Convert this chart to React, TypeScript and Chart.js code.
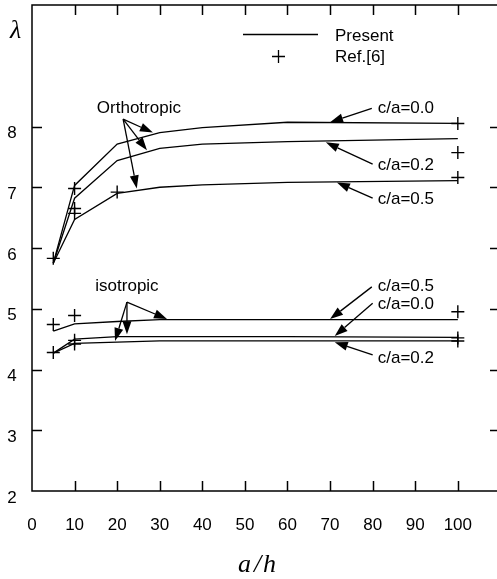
import React, { useEffect, useRef } from "react";
import { Chart, registerables } from "chart.js";

Chart.register(...registerables);

// a/h positions of the computed curves
const curveX = [5, 10, 20, 30, 40, 60, 100];
// Orthotropic (Present)
const orthoC00 = [5.75, 7.03, 7.71, 7.9, 7.98, 8.07, 8.05];
const orthoC02 = [5.75, 6.82, 7.44, 7.64, 7.71, 7.75, 7.8];
const orthoC05 = [5.75, 6.47, 6.9, 7.0, 7.04, 7.08, 7.11];
// Isotropic (Present)
const isoC05 = [4.63, 4.75, 4.79, 4.82, 4.82, 4.82, 4.82];
const isoC00 = [4.27, 4.5, 4.54, 4.54, 4.54, 4.54, 4.53];
const isoC02 = [4.27, 4.43, 4.45, 4.47, 4.47, 4.47, 4.47];

// Ref.[6] points
const refX = [5, 10, 10, 10, 20, 100, 100, 100, 5, 10, 5, 10, 10, 100, 100, 100];
const refY = [5.83, 6.98, 6.65, 6.57, 6.92, 8.05, 7.57, 7.16, 4.74, 4.89, 4.28, 4.48, 4.42, 4.95, 4.52, 4.47];

// axis ticks
const xTicks = [0, 10, 20, 30, 40, 50, 60, 70, 80, 90, 100];
const yTicks = [2, 3, 4, 5, 6, 7, 8];

// annotation texts
const annTexts = ["Orthotropic", "c/a=0.0", "c/a=0.2", "c/a=0.5", "isotropic", "c/a=0.5", "c/a=0.0", "c/a=0.2"];
const annTextX = [25.1, 81.2, 81.2, 81.2, 22.3, 81.2, 81.2, 81.2];
const annTextY = [8.32, 8.32, 7.38, 6.82, 5.39, 5.39, 5.09, 4.2];
const annTextAlign = ["center", "left", "left", "left", "center", "left", "left", "left"];

// arrows: from -> to (data coords)
const arrFromX = [21.4, 21.4, 21.4, 79.8, 80.0, 80.0, 22.3, 22.3, 22.3, 79.8, 80.0, 80.0];
const arrFromY = [8.12, 8.12, 8.12, 8.3, 7.38, 6.82, 5.11, 5.11, 5.11, 5.36, 5.09, 4.24];
const arrToX = [28.4, 27.0, 24.6, 70.0, 69.0, 71.6, 31.7, 22.3, 19.5, 70.0, 71.1, 71.1];
const arrToY = [7.9, 7.61, 6.98, 8.07, 7.74, 7.08, 4.83, 4.58, 4.47, 4.83, 4.55, 4.45];

const toPts = (xs: number[], ys: number[]) => xs.map((x, i) => ({ x, y: ys[i] }));

const FONT = "17px 'Liberation Sans', Arial, sans-serif";

const framePlugin = {
  id: "frame",
  afterDraw(chart: any) {
    const ctx = chart.ctx as CanvasRenderingContext2D;
    const xs = chart.scales.x;
    const ys = chart.scales.y;
    const { left, right, top, bottom } = chart.chartArea;
    ctx.save();
    ctx.strokeStyle = "#000";
    ctx.fillStyle = "#000";
    ctx.lineWidth = 1.5;
    // frame
    ctx.beginPath();
    ctx.moveTo(right + 2, top);
    ctx.lineTo(left, top);
    ctx.lineTo(left, bottom);
    ctx.lineTo(right + 2, bottom);
    ctx.stroke();
    // ticks
    ctx.beginPath();
    xTicks.forEach((v) => {
      if (v === 0) return;
      const px = Math.round(xs.getPixelForValue(v)) + 0.5;
      ctx.moveTo(px, top);
      ctx.lineTo(px, top + 10);
      ctx.moveTo(px, bottom);
      ctx.lineTo(px, bottom - 10);
    });
    yTicks.forEach((v) => {
      if (v === 2) return;
      const py = Math.round(ys.getPixelForValue(v)) + 0.5;
      ctx.moveTo(left, py);
      ctx.lineTo(left + 10, py);
      ctx.moveTo(right + 3, py);
      ctx.lineTo(right - 7, py);
    });
    ctx.stroke();
    // tick labels
    ctx.font = FONT;
    ctx.textAlign = "center";
    ctx.textBaseline = "middle";
    xTicks.forEach((v) => {
      ctx.fillText(String(v), xs.getPixelForValue(v), bottom + 34);
    });
    yTicks.forEach((v) => {
      ctx.fillText(String(v), 12, ys.getPixelForValue(v) + 7);
    });
    // axis titles
    ctx.font = "italic 26px 'Liberation Serif', 'DejaVu Serif', serif";
    ctx.textAlign = "left";
    ctx.textBaseline = "alphabetic";
    ctx.fillText("a", 238, 572);
    ctx.fillText("/", 254, 572);
    ctx.fillText("h", 263, 572);
    ctx.fillText("\u03bb", 10, 38);

    // legend
    ctx.lineWidth = 1.3;
    ctx.beginPath();
    ctx.moveTo(243, 34.5);
    ctx.lineTo(318, 34.5);
    ctx.moveTo(272, 56.5);
    ctx.lineTo(285, 56.5);
    ctx.moveTo(278.5, 50);
    ctx.lineTo(278.5, 63);
    ctx.stroke();
    ctx.font = FONT;
    ctx.textAlign = "left";
    ctx.textBaseline = "middle";
    ctx.fillText("Present", 335, 36);
    ctx.fillText("Ref.[6]", 335, 57);

    // annotations
    annTexts.forEach((t, i) => {
      ctx.textAlign = annTextAlign[i] as CanvasTextAlign;
      ctx.fillText(t, xs.getPixelForValue(annTextX[i]), ys.getPixelForValue(annTextY[i]) + 1);
    });
    ctx.lineWidth = 1.3;
    arrFromX.forEach((_, i) => {
      const x1 = xs.getPixelForValue(arrFromX[i]);
      const y1 = ys.getPixelForValue(arrFromY[i]);
      const x2 = xs.getPixelForValue(arrToX[i]);
      const y2 = ys.getPixelForValue(arrToY[i]);
      const ang = Math.atan2(y2 - y1, x2 - x1);
      const hl = 13;
      const hw = 4.5;
      const bx = x2 - hl * Math.cos(ang);
      const by = y2 - hl * Math.sin(ang);
      ctx.beginPath();
      ctx.moveTo(x1, y1);
      ctx.lineTo(bx, by);
      ctx.stroke();
      ctx.beginPath();
      ctx.moveTo(x2, y2);
      ctx.lineTo(bx + hw * Math.sin(ang), by - hw * Math.cos(ang));
      ctx.lineTo(bx - hw * Math.sin(ang), by + hw * Math.cos(ang));
      ctx.closePath();
      ctx.fill();
    });
    ctx.restore();
  },
};

export default function App() {
  const ref = useRef<HTMLCanvasElement | null>(null);
  useEffect(() => {
    document.body.style.margin = "0";
    const canvas = ref.current;
    if (!canvas) return;
    const line = (ys: number[]) => ({
      type: "line" as const,
      data: toPts(curveX, ys),
      borderColor: "#000",
      borderWidth: 1.3,
      pointRadius: 0,
      tension: 0,
      fill: false,
    });
    const chart = new Chart(canvas, {
      type: "line",
      data: {
        datasets: [
          line(orthoC00),
          line(orthoC02),
          line(orthoC05),
          line(isoC05),
          line(isoC00),
          line(isoC02),
          {
            type: "line",
            data: toPts(refX, refY),
            showLine: false,
            pointStyle: "cross",
            pointRadius: 6.5,
            borderColor: "#000",
            backgroundColor: "#000",
            borderWidth: 1.4,
            clip: false,
          } as any,
        ],
      },
      options: {
        animation: false,
        responsive: false,
        events: [],
        layout: { autoPadding: false, padding: { left: 32, top: 5, right: 0, bottom: 88 } },
        plugins: { legend: { display: false }, tooltip: { enabled: false } },
        scales: {
          x: { type: "linear", min: 0, max: 109.2, display: false },
          y: { type: "linear", min: 2, max: 10, display: false },
        },
      },
      plugins: [framePlugin],
    });
    return () => chart.destroy();
  }, []);
  return <canvas ref={ref} width={497} height={579} style={{ display: "block" }} />;
}
